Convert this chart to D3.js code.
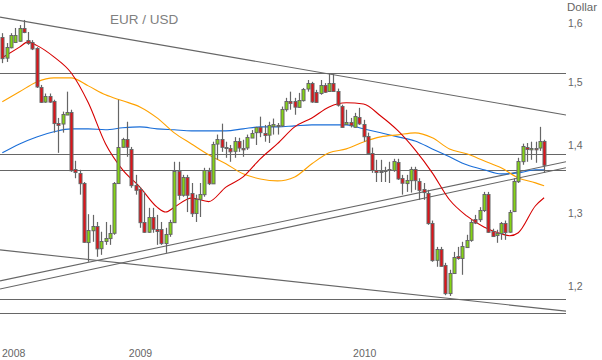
<!DOCTYPE html>
<html>
<head>
<meta charset="utf-8">
<script src="https://cdn.jsdelivr.net/npm/d3@7"></script>
<style>
  body { margin: 0; background: #fff; }
  svg { display: block; font-family: "Liberation Sans", Arial, sans-serif; }
</style>
</head>
<body>
<svg id="chart"></svg>
<script>
// weekly EUR/USD candles, first week starts 2008-06-09
const firstWeek = "2008-06-09";
const opens = [1.576,1.540,1.558,1.567,1.569,1.591,1.570,1.567,1.556,1.492,
  1.468,1.477,1.469,1.434,1.433,1.448,1.452,1.364,1.358,1.343,
  1.2594,1.2761,1.282,1.251,1.2608,1.2649,1.2719,1.343,1.397,1.409,
  1.394,1.340,1.3345,1.287,1.2733,1.294,1.2775,1.2775,1.258,1.2705,
  1.287,1.361,1.326,1.352,1.329,1.300,1.320,1.327,1.361,1.343,
  1.402,1.409,1.397,1.396,1.391,1.406,1.396,1.396,1.412,1.419,
  1.427,1.419,1.416,1.430,1.430,1.430,1.456,1.469,1.469,1.460,
  1.471,1.489,1.498,1.484,1.482,1.495,1.485,1.498,1.485,1.461,
  1.433,1.436,1.428,1.444,1.433,1.414,1.388,1.3625,1.3595,1.361,
  1.3625,1.3625,1.3745,1.350,1.343,1.3475,1.364,1.346,1.3345,1.329,
  1.286,1.2349,1.2496,1.2282,1.191,1.2174,1.2402,1.2375,1.2524,1.2621,
  1.291,1.291,1.304,1.327,1.2747,1.2691,1.2719,1.286,1.2733,1.3025,
  1.346,1.376,1.397,1.394,1.396,1.396,1.406];
const highs = [1.582,1.565,1.582,1.591,1.596,1.605,1.584,1.570,1.558,1.495,
  1.481,1.481,1.471,1.442,1.452,1.484,1.455,1.376,1.3625,1.3445,
  1.298,1.297,1.287,1.2733,1.287,1.283,1.3445,1.471,1.411,1.436,
  1.397,1.355,1.337,1.330,1.307,1.307,1.297,1.287,1.2788,1.290,
  1.3745,1.3745,1.355,1.355,1.343,1.326,1.343,1.3655,1.3655,1.405,
  1.416,1.433,1.405,1.400,1.412,1.411,1.408,1.416,1.423,1.428,
  1.444,1.431,1.436,1.441,1.434,1.460,1.474,1.484,1.474,1.482,
  1.490,1.503,1.500,1.487,1.503,1.498,1.513,1.513,1.489,1.463,
  1.455,1.442,1.450,1.458,1.439,1.419,1.396,1.3775,1.3775,1.367,
  1.3745,1.379,1.379,1.355,1.355,1.367,1.367,1.350,1.343,1.333,
  1.289,1.2524,1.2524,1.2308,1.2215,1.2456,1.2524,1.2594,1.2691,1.290,
  1.297,1.308,1.330,1.330,1.2775,1.2761,1.287,1.289,1.304,1.350,
  1.3805,1.402,1.403,1.405,1.405,1.428,1.408];
const lows = [1.531,1.533,1.556,1.565,1.567,1.582,1.562,1.553,1.490,1.466,
  1.466,1.466,1.419,1.388,1.419,1.447,1.3595,1.350,1.326,1.258,
  1.2322,1.2594,1.2389,1.2416,1.2552,1.2552,1.2691,1.342,1.396,1.382,
  1.336,1.326,1.2788,1.2719,1.2719,1.2719,1.2552,1.2552,1.2442,1.2663,
  1.286,1.3185,1.323,1.301,1.294,1.287,1.294,1.323,1.340,1.342,
  1.3775,1.3895,1.3805,1.3745,1.3805,1.3895,1.382,1.3925,1.411,1.400,
  1.412,1.405,1.403,1.416,1.416,1.428,1.452,1.455,1.447,1.458,
  1.468,1.484,1.466,1.466,1.479,1.482,1.484,1.484,1.460,1.427,
  1.431,1.427,1.427,1.431,1.405,1.385,1.358,1.3445,1.3445,1.3445,
  1.343,1.3595,1.3475,1.326,1.330,1.329,1.333,1.3185,1.3185,1.283,
  1.2322,1.2255,1.2255,1.188,1.187,1.2161,1.2349,1.2148,1.251,1.2594,
  1.284,1.287,1.301,1.2719,1.2663,1.258,1.2621,1.2621,1.2719,1.301,
  1.343,1.370,1.3745,1.3775,1.373,1.391,1.358];
const closes = [1.540,1.558,1.579,1.579,1.591,1.584,1.565,1.556,1.492,1.468,
  1.477,1.468,1.434,1.431,1.448,1.452,1.3625,1.3595,1.343,1.2594,
  1.2761,1.282,1.251,1.2608,1.2649,1.2719,1.343,1.397,1.409,1.397,
  1.340,1.333,1.287,1.2733,1.294,1.2775,1.2747,1.258,1.2705,1.287,
  1.361,1.326,1.352,1.326,1.300,1.320,1.327,1.3625,1.343,1.402,
  1.409,1.397,1.396,1.391,1.406,1.396,1.394,1.412,1.419,1.427,
  1.419,1.416,1.431,1.433,1.431,1.456,1.469,1.466,1.460,1.471,
  1.489,1.498,1.468,1.468,1.495,1.484,1.498,1.485,1.463,1.428,
  1.436,1.431,1.445,1.434,1.414,1.388,1.3625,1.3595,1.361,1.3625,
  1.364,1.376,1.350,1.343,1.3475,1.364,1.3475,1.333,1.330,1.286,
  1.2349,1.2496,1.2268,1.191,1.2174,1.2389,1.2375,1.2538,1.2621,1.287,
  1.286,1.304,1.327,1.2733,1.2677,1.2719,1.286,1.2733,1.301,1.346,
  1.376,1.399,1.394,1.396,1.394,1.406,1.370];

// moving averages (week index -> value)
const redWeeks = [0,4,6,8,12,16,20,24,28,32,36,38,40,44,48,52,56,60,64,68,72,76,80,84,88,92,96,100,104,108,112,116,118,120,124,126];
const redVals  = [1.540,1.558,1.567,1.561,1.5415,1.515,1.466,1.402,1.3625,1.337,1.308,1.301,1.308,1.321,1.316,1.337,1.352,1.379,1.402,1.428,1.442,1.4595,1.466,1.464,1.445,1.422,1.3925,1.358,1.3186,1.2955,1.280,1.2705,1.2677,1.272,1.310,1.3215];
const maWeeks = [0,4,8,12,16,20,24,28,32,36,40,44,48,52,56,60,64,68,72,76,80,84,88,92,96,100,104,108,112,116,120,124,126];
const orangeVals = [1.4676,1.4837,1.4998,1.5065,1.5065,1.4934,1.4789,1.4692,1.4595,1.4421,1.4187,1.4016,1.385,1.3715,1.3565,1.349,1.3461,1.3519,1.3715,1.388,1.394,1.4047,1.4124,1.4156,1.4187,1.4109,1.394,1.3865,1.376,1.3655,1.3504,1.3432,1.3389];
const blueVals = [1.388,1.4016,1.4124,1.4203,1.4249,1.4249,1.4234,1.4265,1.428,1.4249,1.4234,1.4218,1.4218,1.4218,1.4249,1.428,1.428,1.4296,1.4311,1.4311,1.4311,1.4249,1.4187,1.4124,1.4062,1.394,1.382,1.37,1.3625,1.3565,1.358,1.3625,1.3625];

// horizontal support/resistance levels and trend lines (value at left edge, value at right edge)
const levels = [1.5148, 1.3865, 1.3625, 1.1831, 1.165];
const trendLines = [[1.610, 1.4467], [1.2067, 1.3745], [1.1961, 1.3655], [1.2483, 1.1675]];

const yTicks = [1.2, 1.3, 1.4, 1.5, 1.6];
const years = [2008, 2009, 2010];
const title = "EUR / USD";
const unit = "Dollar";

const W = 602, H = 360;
const plotRight = 566;
const parse = d3.utcParse("%Y-%m-%d");
const week0 = parse(firstWeek);
const weekDate = i => d3.utcDay.offset(week0, Math.round(i * 7));

const candles = opens.map((o, i) => ({
  date: weekDate(i), open: o, high: highs[i], low: lows[i], close: closes[i]
}));

const svg = d3.select("#chart").attr("width", W).attr("height", H);

const x = d3.scaleUtc()
  .domain([week0, weekDate(candles.length - 1)])
  .range([2.3, 544.1]);
const y = d3.scaleLog()
  .domain([1.2, 1.6])
  .range([286, 22.8]);

const xLeft = x.invert(0), xRight = x.invert(plotRight);

svg.append("defs").append("clipPath").attr("id", "plot")
  .append("rect").attr("x", 0).attr("y", 0).attr("width", plotRight).attr("height", 330);

const plot = svg.append("g").attr("clip-path", "url(#plot)");

// title
svg.append("text")
  .attr("x", 110).attr("y", 24)
  .attr("font-size", 13.5).attr("fill", "#808080")
  .text(title);

// horizontal levels
plot.selectAll(".level").data(levels).join("line")
  .attr("x1", 0).attr("x2", plotRight)
  .attr("y1", d => Math.round(y(d)) + 0.5).attr("y2", d => Math.round(y(d)) + 0.5)
  .attr("stroke", "#666").attr("stroke-width", 1.1);

// trend lines
plot.selectAll(".trend").data(trendLines).join("line")
  .attr("x1", x(xLeft)).attr("x2", x(xRight))
  .attr("y1", d => y(d[0])).attr("y2", d => y(d[1]))
  .attr("stroke", "#666").attr("stroke-width", 1.1);

// moving averages
const maLine = d3.line()
  .x(d => x(d.date)).y(d => y(d.v))
  .curve(d3.curveMonotoneX);
const series = [
  { weeks: maWeeks, vals: blueVals, color: "#1a6ed8" },
  { weeks: maWeeks, vals: orangeVals, color: "#ffa200" },
  { weeks: redWeeks, vals: redVals, color: "#d60000" }
];
series.forEach(s => {
  const pts = s.weeks.map((w, i) => ({ date: weekDate(w), v: s.vals[i] }));
  plot.append("path")
    .datum(pts)
    .attr("fill", "none")
    .attr("stroke", s.color)
    .attr("stroke-width", 1.1)
    .attr("d", maLine);
});

// candles
const cg = plot.selectAll(".candle").data(candles).join("g");
cg.append("line")
  .attr("x1", d => Math.round(x(d.date)) + 0.5)
  .attr("x2", d => Math.round(x(d.date)) + 0.5)
  .attr("y1", d => y(d.high)).attr("y2", d => y(d.low))
  .attr("stroke", "#666").attr("stroke-width", 1.2);
cg.append("rect")
  .attr("x", d => Math.round(x(d.date)) - 1)
  .attr("width", 3)
  .attr("y", d => Math.round(y(Math.max(d.open, d.close))) + 0.5)
  .attr("height", d => Math.max(1, Math.abs(y(d.open) - y(d.close))))
  .attr("fill", d => d.close >= d.open ? "#84d414" : "#e0141a")
  .attr("stroke", "#666").attr("stroke-width", 1);

// right axis
const yAxis = d3.axisRight(y)
  .tickValues(yTicks)
  .tickSize(0).tickPadding(2)
  .tickFormat(d => d3.format(".1f")(d).replace(".", ","));
const ya = svg.append("g")
  .attr("transform", `translate(${plotRight},0)`)
  .call(yAxis);
ya.select(".domain").remove();
ya.selectAll("text")
  .attr("font-family", "'Liberation Sans', Arial, sans-serif")
  .attr("font-size", 10.5).attr("fill", "#666");

svg.append("text")
  .attr("x", 567).attr("y", 11)
  .attr("font-size", 11.5).attr("fill", "#666")
  .text(unit);

// year labels
svg.selectAll(".year").data(years).join("text")
  .attr("x", d => Math.max(2, x(new Date(Date.UTC(d, 0, 1)))))
  .attr("y", 357)
  .attr("font-size", 10.5).attr("fill", "#666")
  .text(d => d);
</script>
</body>
</html>
